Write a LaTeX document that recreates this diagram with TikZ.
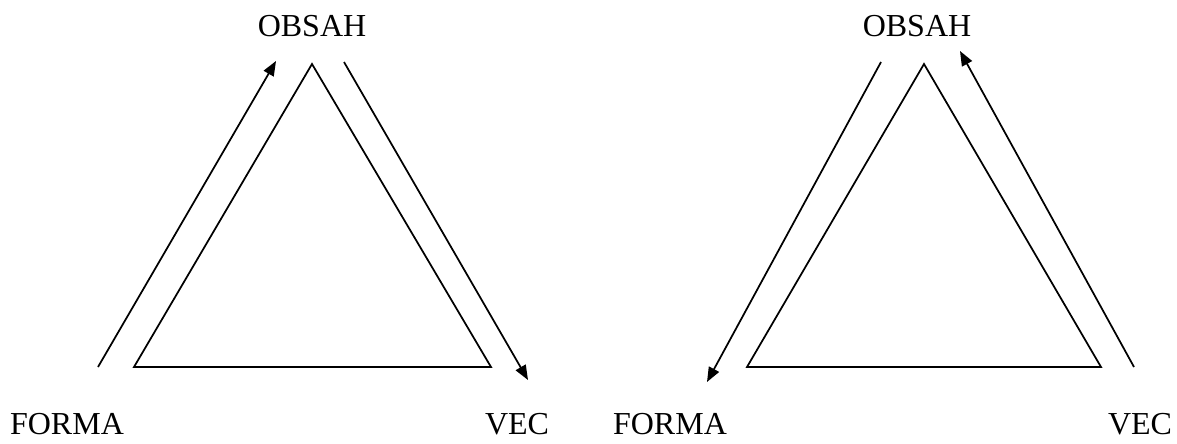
\documentclass[tikz,border=0pt]{standalone}
\usepackage{fontspec}
\setmainfont{Liberation Serif}
\usetikzlibrary{arrows.meta}
\begin{document}
\begin{tikzpicture}[x=0.75pt,y=-0.75pt,
  edge/.style={line width=1.3pt,line join=miter},
  flow/.style={line width=1.3pt,-{Triangle[length=11pt,width=8.5pt]}},
  lbl/.style={font=\fontsize{24}{28}\selectfont,anchor=base,inner sep=0pt}]
\useasboundingbox (0,0) rectangle (1177,443);

% left triangle
\coordinate (a1) at (312,64);
\coordinate (b1) at (134,367);
\coordinate (c1) at (491,367);
\draw[edge] (a1) -- (b1) -- (c1) -- cycle;
\coordinate (p1) at (98,367);
\coordinate (q1) at (276,61);
\coordinate (r1) at (344,62);
\coordinate (s1) at (528,380);
\draw[flow] (p1) -- (q1);
\draw[flow] (r1) -- (s1);
\node[lbl] (obsah1) at (312,36) {OBSAH};
\node[lbl] (forma1) at (67,434) {FORMA};
\node[lbl] (vec1) at (517,434) {VEC};

% right triangle
\coordinate (a2) at (924,64);
\coordinate (b2) at (747,367);
\coordinate (c2) at (1101,367);
\draw[edge] (a2) -- (b2) -- (c2) -- cycle;
\coordinate (p2) at (881,62);
\coordinate (q2) at (707,382);
\coordinate (r2) at (1134,367);
\coordinate (s2) at (960,51);
\draw[flow] (p2) -- (q2);
\draw[flow] (r2) -- (s2);
\node[lbl] (obsah2) at (917,36) {OBSAH};
\node[lbl] (forma2) at (670,434) {FORMA};
\node[lbl] (vec2) at (1140,434) {VEC};
\end{tikzpicture}
\end{document}
